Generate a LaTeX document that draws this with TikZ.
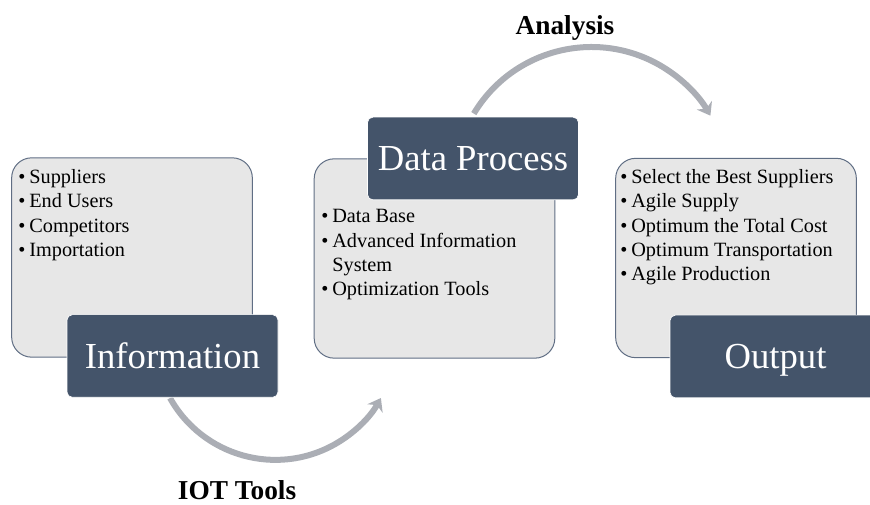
\documentclass[tikz,border=0pt]{standalone}
\usepackage{fontspec}
\setmainfont{Liberation Serif}
\usetikzlibrary{arrows.meta}

\definecolor{slate}{RGB}{68,84,106}
\definecolor{panelfill}{RGB}{231,231,231}
\definecolor{panelline}{RGB}{96,110,132}
\definecolor{arcgray}{RGB}{171,174,181}

\newcommand{\bul}{\textbullet\hspace{3pt}}

\begin{document}
\begin{tikzpicture}[x=0.75pt,y=0.75pt,yscale=-1,xscale=1,
  panel/.style={draw=panelline, line width=0.75pt, fill=panelfill, rounded corners=15pt, minimum width=180.5pt, minimum height=149.5pt},
  title/.style={draw=white, line width=0.5pt, fill=slate, rounded corners=4pt, text=white, font=\fontsize{27.5}{33}\selectfont, minimum width=158.25pt, minimum height=62pt, text depth=0pt},
  items/.style={anchor=north west, inner sep=0pt, align=left, font=\fontsize{15.2}{18.2}\selectfont},
  flow/.style={draw=arcgray, line width=4.5pt, -{Stealth[length=9pt,width=13pt]}},
  caption/.style={anchor=base, font=\bfseries\fontsize{20.5}{24}\selectfont}]
\useasboundingbox (0,0) rectangle (870,505);

% curved arrows
\coordinate (iotstart) at (170,398);
\coordinate (anastart) at (473.8,113.6);
\draw [flow] (iotstart) arc [start angle=150.8, end angle=29.2, radius=120.8];
\draw [flow] (anastart) arc [start angle=211, end angle=330, radius=137.3];

% grey panels
\node [panel] (infopanel) at (132,257.5) {};
\node [panel] (procpanel) at (434.5,258.5) {};
\node [panel] (outpanel) at (736,258) {};

% bullet lists
\node [items] (infolist) at (18,169.3) {\bul Suppliers\\ \bul End Users\\ \bul Competitors\\ \bul Importation};
\node [items] (proclist) at (321,209.3) {\bul Data Base\\ \bul Advanced Information\\ \phantom{\bul}System\\ \bul Optimization Tools};
\node [items] (outlist) at (620,169.3) {\bul Select the Best Suppliers\\ \bul Agile Supply\\ \bul Optimum the Total Cost\\ \bul Optimum Transportation\\ \bul Agile Production};

% dark title boxes
\node [title] (info) at (172.5,356) {Information};
\node [title] (proc) at (473,158.5) {Data Process};
\node [title] (out) at (775.5,356.5) {Output};

% Text Node
\node [caption] (analysis) at (565,35) {Analysis};
% Text Node
\node [caption] (iot) at (237,499) {IOT Tools};

\end{tikzpicture}
\end{document}
